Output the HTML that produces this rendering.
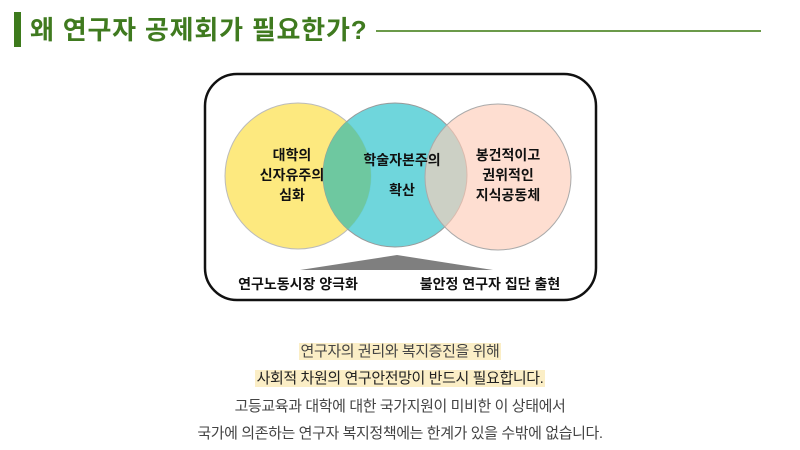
<!DOCTYPE html>
<html><head><meta charset="utf-8"><style>
body{margin:0;width:800px;height:450px;background:#fff;position:relative;overflow:hidden;font-family:"Liberation Sans","Noto Sans CJK KR",sans-serif}
.t{position:absolute;white-space:nowrap}
.bt{position:absolute;left:0;width:800px;text-align:center;font-size:15px;color:#444;letter-spacing:-0.4px}
.bt span{background:#fbeec6;padding:0 2px}
</style></head><body>
<div style="position:absolute;left:14px;top:12px;width:7px;height:35px;background:#3d7a1c"></div>
<div class="t" style="left:30px;top:10px;font-size:26px;font-weight:bold;color:#3f7a1f;letter-spacing:0.8px">왜 연구자 공제회가 필요한가?</div>
<div style="position:absolute;left:376px;top:30px;width:385px;height:2px;background:#6b9a4a"></div>
<svg width="800" height="450" style="position:absolute;left:0;top:0">
<rect x="205" y="74" width="391" height="226" rx="32" fill="#fff" stroke="#111" stroke-width="2.5"/>
<circle cx="298" cy="176" r="73" fill="#fde97f" stroke="#bbb"/>
<circle cx="395" cy="175" r="72" fill="#5fd1d8" fill-opacity="0.9" stroke="#999"/>
<circle cx="498" cy="177" r="73" fill="#fdcdb8" fill-opacity="0.65" stroke="#aaa"/>
<clipPath id="c1"><circle cx="298" cy="176" r="73"/></clipPath>
<circle cx="395" cy="175" r="72" fill="#6ec8a0" clip-path="url(#c1)"/>
<polygon points="397,255 300,270 493,270" fill="#7f7f7f"/>
<g font-family="Liberation Sans,Noto Sans CJK KR,sans-serif" font-size="14" font-weight="bold" fill="#111" text-anchor="middle">
<text x="292" y="160">대학의</text><text x="292" y="180">신자유주의</text><text x="292" y="200">심화</text>
<text x="402" y="165">학술자본주의</text><text x="402" y="195">확산</text>
<text x="508" y="160">봉건적이고</text><text x="508" y="180">권위적인</text><text x="508" y="200">지식공동체</text>
<text x="298" y="289">연구노동시장 양극화</text><text x="490" y="289">불안정 연구자 집단 출현</text>
</g></svg>
<div class="bt" style="top:340px"><span>연구자의 권리와 복지증진을 위해</span></div>
<div class="bt" style="top:367px;color:#222"><span>사회적 차원의 연구안전망이 반드시 필요합니다.</span></div>
<div class="bt" style="top:395px">고등교육과 대학에 대한 국가지원이 미비한 이 상태에서</div>
<div class="bt" style="top:422px">국가에 의존하는 연구자 복지정책에는 한계가 있을 수밖에 없습니다.</div>
</body></html>
